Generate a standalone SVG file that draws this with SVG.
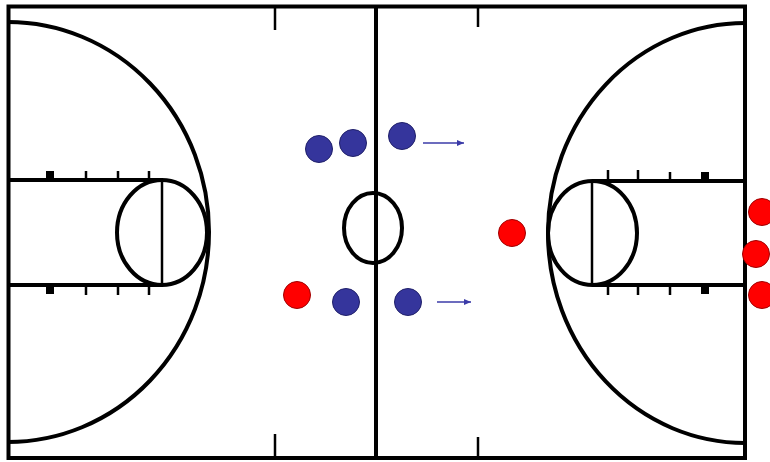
<svg xmlns="http://www.w3.org/2000/svg" width="770" height="462" viewBox="0 0 770 462">
<style>
.ln{stroke:#000;stroke-width:4;fill:none}
.thin{stroke:#000;stroke-width:2.5;fill:none}
.tk{stroke:#000;stroke-width:2.5}
.sq{fill:#000}
.blue{fill:#35359c;stroke:#20206a;stroke-width:1}
.red{fill:#ff0000;stroke:#a00000;stroke-width:1}
.arr{stroke:#3b3ba8;stroke-width:1.3;fill:none}
</style>
<defs>
<marker id="ah" markerWidth="8" markerHeight="8" refX="7" refY="4" orient="auto" markerUnits="userSpaceOnUse">
<path d="M0,1 L7,4 L0,7 Z" fill="#3b3ba8"/>
</marker>
</defs>
<rect x="0" y="0" width="770" height="462" fill="#fff"/>
<g id="court">
<rect x="8.5" y="6.5" width="736.5" height="451.5" class="ln"/>
<line x1="376" y1="6" x2="376" y2="458" class="ln"/>
<line x1="275" y1="6" x2="275" y2="30" class="tk" stroke-width="3"/>
<line x1="478" y1="6" x2="478" y2="27" class="tk" stroke-width="3"/>
<line x1="275" y1="434" x2="275" y2="458" class="tk" stroke-width="3"/>
<line x1="478" y1="437" x2="478" y2="458" class="tk" stroke-width="3"/>
<ellipse cx="373" cy="228" rx="29" ry="35" class="ln"/>
</g>
<g id="left-half">
<path d="M8,22 A201,210 0 0 1 8,442" class="ln"/>
<line x1="8" y1="180" x2="162" y2="180" class="ln"/>
<line x1="8" y1="285" x2="162" y2="285" class="ln"/>
<line x1="162" y1="180" x2="162" y2="285" class="thin"/>
<ellipse cx="162" cy="232.5" rx="45" ry="52.5" class="ln"/>
<rect x="46" y="171" width="8" height="8" class="sq"/>
<line x1="86" y1="171" x2="86" y2="180" class="tk"/>
<line x1="118" y1="171" x2="118" y2="180" class="tk"/>
<line x1="149" y1="171" x2="149" y2="180" class="tk"/>
<rect x="46" y="286" width="8" height="8" class="sq"/>
<line x1="86" y1="285" x2="86" y2="295" class="tk"/>
<line x1="118" y1="285" x2="118" y2="295" class="tk"/>
<line x1="149" y1="285" x2="149" y2="295" class="tk"/>
</g>
<g id="right-half">
<path d="M745,23 A197,210 0 0 0 745,443" class="ln"/>
<line x1="592" y1="181" x2="745" y2="181" class="ln"/>
<line x1="592" y1="285" x2="745" y2="285" class="ln"/>
<line x1="592" y1="181" x2="592" y2="285" class="thin"/>
<ellipse cx="592.5" cy="233" rx="44.5" ry="52" class="ln"/>
<line x1="608" y1="170" x2="608" y2="181" class="tk"/>
<line x1="638" y1="170" x2="638" y2="181" class="tk"/>
<line x1="670" y1="172" x2="670" y2="181" class="tk"/>
<rect x="701" y="172" width="8" height="8" class="sq"/>
<line x1="608" y1="285" x2="608" y2="295" class="tk"/>
<line x1="638" y1="285" x2="638" y2="295" class="tk"/>
<line x1="670" y1="285" x2="670" y2="295" class="tk"/>
<rect x="701" y="286" width="8" height="8" class="sq"/>
</g>
<g id="players-blue">
<circle cx="319" cy="149" r="13.5" class="blue"/>
<circle cx="353" cy="143" r="13.5" class="blue"/>
<circle cx="402" cy="136" r="13.5" class="blue"/>
<circle cx="346" cy="302" r="13.5" class="blue"/>
<circle cx="408" cy="302" r="13.5" class="blue"/>
</g>
<g id="players-red">
<circle cx="297" cy="295" r="13.5" class="red"/>
<circle cx="512" cy="233" r="13.5" class="red"/>
<circle cx="762" cy="212" r="13.5" class="red"/>
<circle cx="756" cy="254" r="13.5" class="red"/>
<circle cx="762" cy="295" r="13.5" class="red"/>
</g>
<g id="connectors">
<line x1="423" y1="143" x2="464" y2="143" class="arr" marker-end="url(#ah)"/>
<line x1="437" y1="302" x2="471" y2="302" class="arr" marker-end="url(#ah)"/>
</g>
</svg>
